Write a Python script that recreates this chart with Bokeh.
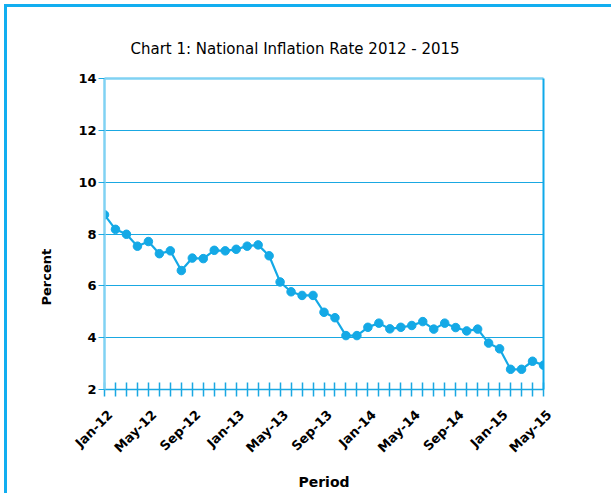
import math
from bokeh.plotting import figure
from bokeh.models import Range1d, FixedTicker, LinearAxis, Title
from bokeh.embed import file_html
from bokeh.resources import INLINE

# ---- data ----
periods = [
    "Jan-12", "Feb-12", "Mar-12", "Apr-12", "May-12", "Jun-12", "Jul-12", "Aug-12", "Sep-12", "Oct-12", "Nov-12", "Dec-12",
    "Jan-13", "Feb-13", "Mar-13", "Apr-13", "May-13", "Jun-13", "Jul-13", "Aug-13", "Sep-13", "Oct-13", "Nov-13", "Dec-13",
    "Jan-14", "Feb-14", "Mar-14", "Apr-14", "May-14", "Jun-14", "Jul-14", "Aug-14", "Sep-14", "Oct-14", "Nov-14", "Dec-14",
    "Jan-15", "Feb-15", "Mar-15", "Apr-15", "May-15",
]
inflation = [
    8.74, 8.18, 7.99, 7.53, 7.71, 7.24, 7.35, 6.59, 7.07, 7.05, 7.37, 7.35,
    7.41, 7.53, 7.58, 7.16, 6.15, 5.77, 5.63, 5.63, 4.98, 4.77, 4.08, 4.08,
    4.40, 4.56, 4.34, 4.40, 4.47, 4.62, 4.33, 4.56, 4.39, 4.26, 4.33, 3.79,
    3.57, 2.78, 2.78, 3.09, 2.94,
]
tick_labels = ["Jan-12", "May-12", "Sep-12", "Jan-13", "May-13", "Sep-13",
               "Jan-14", "May-14", "Sep-14", "Jan-15", "May-15"]
y_ticks = [2, 4, 6, 8, 10, 12, 14]

title_text = "Chart 1: National Inflation Rate 2012 - 2015"
y_title = "Percent"
x_title = "Period"

# ---- styles ----
LINE = "#14a9e6"
BRIGHT = "#1aa8e2"
LIGHT = "#80d2f3"
FONT = "DejaVu Sans"

month_idx = list(range(len(periods)))
label_idx = [periods.index(t) for t in tick_labels]
# leading empty line nudges each rotated label to the lower right of its tick
label_map = {i: "\n" + periods[i] for i in label_idx}
n_last = len(periods) - 1

p = figure(frame_width=439, frame_height=311,
           min_border_left=97, min_border_right=68, min_border_top=71, min_border_bottom=102,
           x_range=Range1d(0, n_last), y_range=Range1d(2, 14),
           output_backend="svg", toolbar_location=None)
p.styles = {"margin-left": "4px", "margin-top": "4px",
            "border-left": "3px solid #12aef0", "border-top": "3px solid #12aef0"}
p.outline_line_color = None
p.xgrid.visible = False
p.ygrid.ticker = FixedTicker(ticks=y_ticks)
p.ygrid.grid_line_color = BRIGHT
p.ygrid.grid_line_width = 1

# title
p.title.text = title_text
p.title.align = "left"
p.title.offset = 26
p.title.text_font = FONT
p.title.text_font_size = "15px"
p.title.text_font_style = "normal"
p.title.text_color = "black"
p.title.standoff = 42

# x axis: ticks at every month (no labels)
xa = p.xaxis[0]
xa.ticker = FixedTicker(ticks=month_idx)
xa.major_tick_in = 7
xa.major_tick_out = 7
xa.major_tick_line_color = BRIGHT
xa.major_tick_line_width = 1.5
xa.minor_tick_line_color = None
xa.axis_line_color = BRIGHT
xa.axis_line_width = 1.5
xa.major_label_text_font_size = "0px"
xa.major_label_text_color = None
xa.major_label_standoff = 0

# x axis: labels every four months
xl = LinearAxis(ticker=FixedTicker(ticks=label_idx),
                major_label_overrides=label_map,
                axis_line_color=None, major_tick_line_color=None, minor_tick_line_color=None,
                major_tick_in=0, major_tick_out=0,
                major_label_orientation=math.pi / 4,
                major_label_text_font=FONT, major_label_text_font_style="bold",
                major_label_text_font_size="13px", major_label_text_color="black",
                major_label_text_line_height=1.1,
                major_label_standoff=10,
                axis_label=x_title, axis_label_text_font=FONT, axis_label_text_font_style="bold",
                axis_label_text_font_size="14px", axis_label_text_color="black",
                axis_label_standoff=5)
p.add_layout(xl, "below")

ya = p.yaxis[0]
ya.ticker = FixedTicker(ticks=y_ticks)
ya.major_tick_in = 0
ya.major_tick_out = 6
ya.major_tick_line_color = BRIGHT
ya.minor_tick_line_color = None
ya.axis_line_color = LIGHT
ya.axis_line_width = 2.5
ya.major_label_text_font = FONT
ya.major_label_text_font_style = "bold"
ya.major_label_text_font_size = "13px"
ya.major_label_text_color = "black"
ya.major_label_standoff = 2

right_ax = LinearAxis(ticker=FixedTicker(ticks=[]), axis_line_color="#0fa9ea", axis_line_width=2,
                      major_tick_line_color=None, minor_tick_line_color=None)
p.add_layout(right_ax, "right")
top_ax = LinearAxis(ticker=FixedTicker(ticks=[]), axis_line_color=LIGHT, axis_line_width=2.5,
                    major_tick_line_color=None, minor_tick_line_color=None)
p.add_layout(top_ax, "above")

p.add_layout(Title(text=y_title, align="left", offset=84, standoff=44,
                   text_font=FONT, text_font_size="13px", text_font_style="bold",
                   text_color="black"), "left")

p.line(month_idx, inflation, line_color=LINE, line_width=2.2)
p.scatter(month_idx, inflation, size=8.5, fill_color=LINE, line_color=LINE)

open("out.html", "w").write(file_html(p, INLINE))
